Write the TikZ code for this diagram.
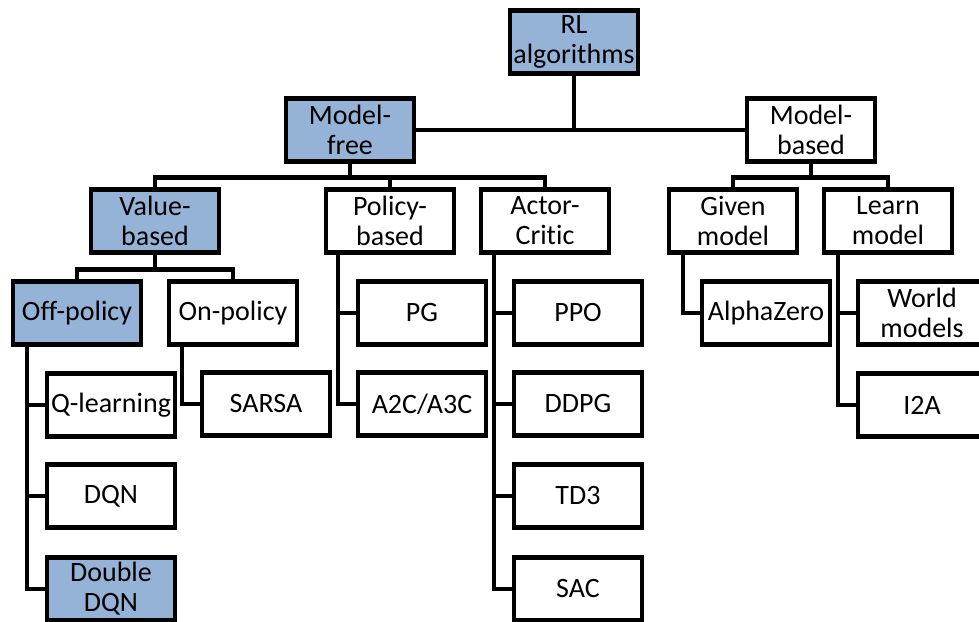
\documentclass[tikz,border=0pt]{standalone}
\usepackage{fontspec}
\setmainfont{Carlito}[Ligatures=NoCommon]
\usetikzlibrary{backgrounds}
\definecolor{hilite}{HTML}{95B3D7}
\begin{document}
\begin{tikzpicture}[x=1pt,y=-1pt,
  box/.style={draw=black, line width=4.8pt, fill=white, minimum width=128pt,
    minimum height=63pt, inner sep=0pt, outer sep=0pt, align=center,
    font=\fontsize{28}{30}\selectfont},
  hot/.style={box, fill=hilite},
  wire/.style={draw=black, line width=4.8pt, line join=miter}]
\useasboundingbox (0,0) rectangle (979,621);

% level 0 and 1
\node[hot] (rl) at (574,42) {RL\\algorithms};
\node[hot] (mf) at (350,130) {Model-\\free};
\node[box] (mb) at (811,130) {Model-\\based};

% level 2
\node[hot] (vb) at (155,221) {Value-\\based};
\node[box] (pb) at (390,221) {Policy-\\based};
\node[box] (ac) at (545,221) {Actor-\\Critic};
\node[box] (gm) at (733,221) {Given\\model};
\node[box] (lm) at (888,221) {Learn\\model};

% level 3
\node[hot] (off) at (77,313) {Off-policy};
\node[box] (on) at (233,313) {On-policy};

% leaves
\node[box] (ql) at (111,405) {Q-learning};
\node[box] (dqn) at (111,496) {DQN};
\node[hot] (ddqn) at (111,589) {Double\\DQN};
\node[box] (sarsa) at (266,404) {SARSA};
\node[box] (pg) at (422,313) {PG};
\node[box] (a2c) at (422,404) {A2C/A3C};
\node[box] (ppo) at (578,313) {PPO};
\node[box] (ddpg) at (578,404) {DDPG};
\node[box] (td3) at (578,496) {TD3};
\node[box] (sac) at (578,589) {SAC};
\node[box] (az) at (766,313) {AlphaZero};
\node[box] (wm) at (922,313) {World\\models};
\node[box] (i2a) at (922,405) {I2A};

% bus levels just above each row of children
\coordinate (mfBus) at ([yshift=12pt]pb.north);
\coordinate (mbBus) at ([yshift=12pt]lm.north);
\coordinate (vbBus) at ([yshift=12pt]on.north);

% trunk tops, left of each parent's bottom edge
\coordinate (offT) at ([xshift=-50pt]off.south);
\coordinate (onT) at ([xshift=-51pt]on.south);
\coordinate (pbT) at ([xshift=-52pt]pb.south);
\coordinate (acT) at ([xshift=-51pt]ac.south);
\coordinate (gmT) at ([xshift=-50pt]gm.south);
\coordinate (lmT) at ([xshift=-50pt]lm.south);

\begin{scope}[on background layer]
% root
\draw[wire] (mf.east) -- (mb.west);
\draw[wire] (rl.south) -- (rl.south |- mf.east);
% model-free bus
\draw[wire] (vb.north) |- (mfBus) -| (ac.north);
\draw[wire] (mf.south) -- (mf.south |- mfBus);
\draw[wire] (pb.north) -- (mfBus);
% model-based bus
\draw[wire] (gm.north) |- (mbBus) -- (lm.north);
\draw[wire] (mb.south) -- (mb.south |- mbBus);
% value-based bus
\draw[wire] (off.north) |- (vbBus) -- (on.north);
\draw[wire] (vb.south) -- (vb.south |- vbBus);
% trunks to leaves
\draw[wire] (offT) |- (ql.west);
\draw[wire] (offT) |- (dqn.west);
\draw[wire] (offT) |- (ddqn.west);
\draw[wire] (onT) |- (sarsa.west);
\draw[wire] (pbT) |- (pg.west);
\draw[wire] (pbT) |- (a2c.west);
\draw[wire] (acT) |- (ppo.west);
\draw[wire] (acT) |- (ddpg.west);
\draw[wire] (acT) |- (td3.west);
\draw[wire] (acT) |- (sac.west);
\draw[wire] (gmT) |- (az.west);
\draw[wire] (lmT) |- (wm.west);
\draw[wire] (lmT) |- (i2a.west);
\end{scope}
\end{tikzpicture}
\end{document}
